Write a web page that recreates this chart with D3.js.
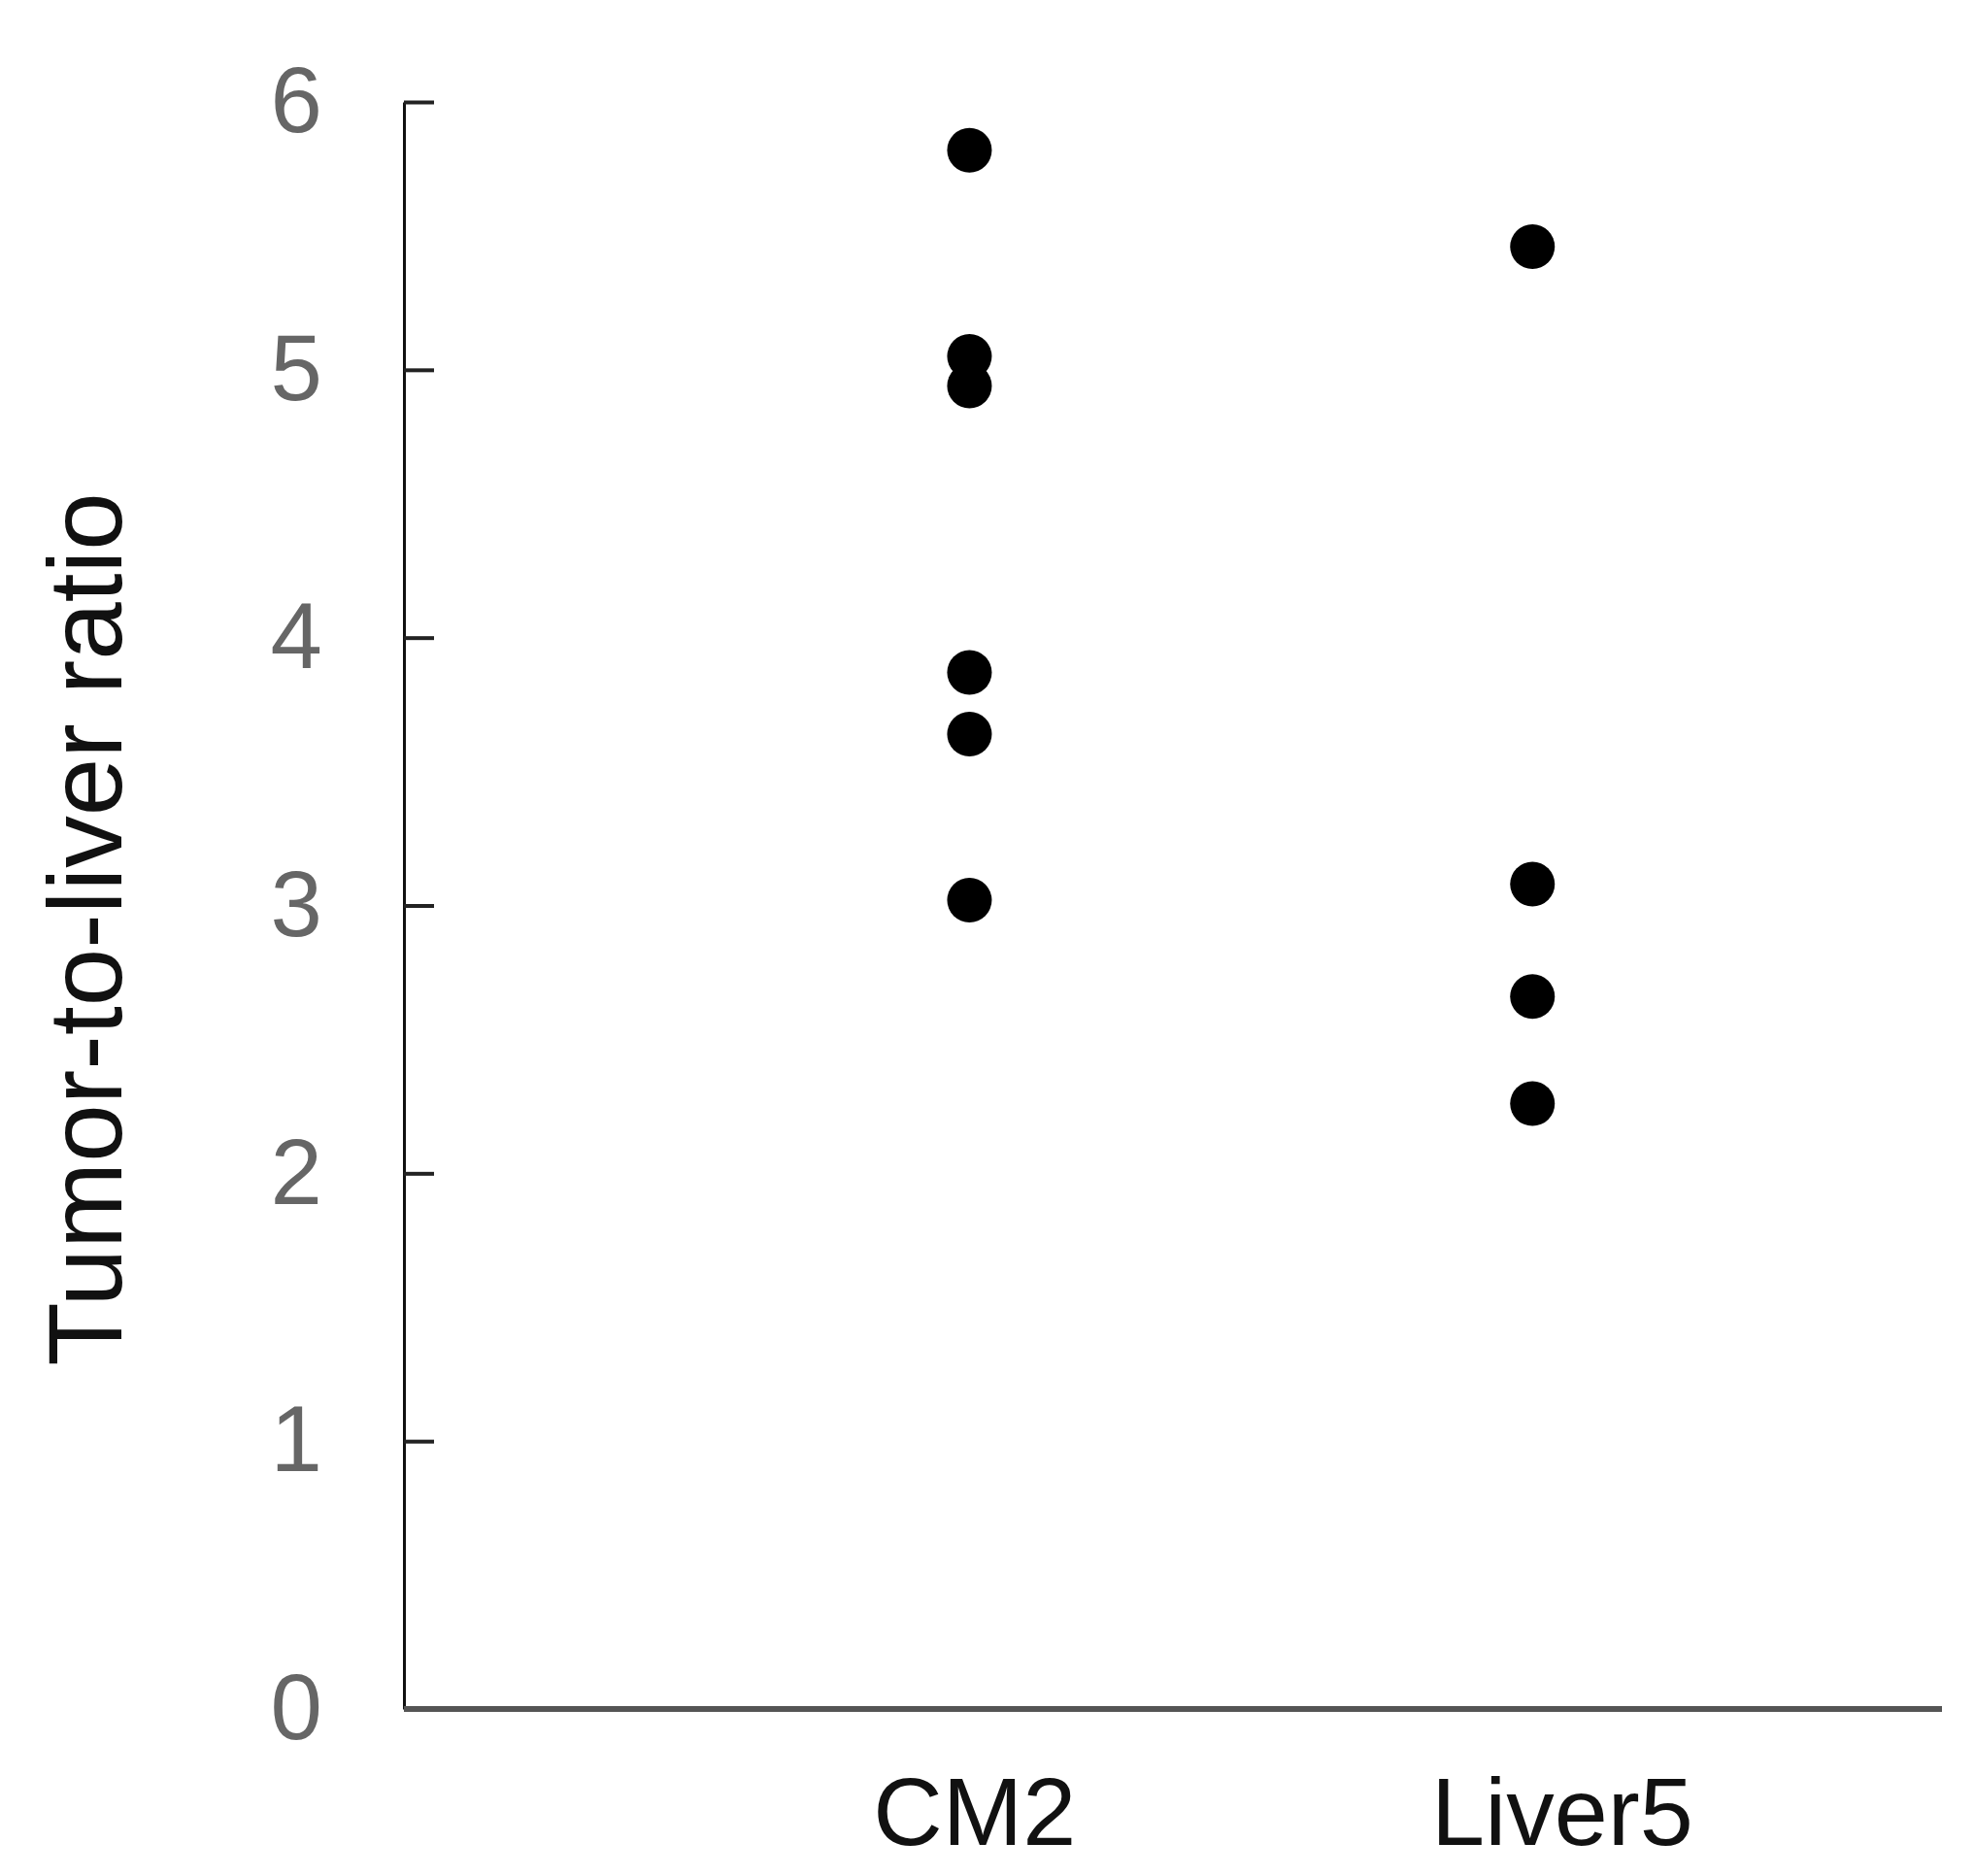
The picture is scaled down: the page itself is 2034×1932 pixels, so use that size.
<!DOCTYPE html>
<html>
<head>
<meta charset="utf-8">
<script src="https://cdn.jsdelivr.net/npm/d3@7"></script>
<style>
  body { margin: 0; background: #fff; }
  svg { display: block; font-family: "Liberation Sans", Arial, sans-serif; }
</style>
</head>
<body>
<div id="chart"></div>
<script>
const groups = ['CM2', 'Liver5'];
const cm2Values = [5.82, 5.05, 4.94, 3.87, 3.64, 3.02];
const liver5Values = [5.46, 3.08, 2.66, 2.26];
const yTicks = [0, 1, 2, 3, 4, 5, 6];

const points = []
    .concat(cm2Values.map(v => ({group: 'CM2', value: v})))
    .concat(liver5Values.map(v => ({group: 'Liver5', value: v})));

const margin = ({top: 105, right: 34, bottom: 172, left: 416});
const fullW = 2034, fullH = 1932;
const width = fullW - margin.left - margin.right;
const height = fullH - margin.top - margin.bottom;

const svg = d3.select('#chart')
    .append('svg')
    .attr('width', fullW)
    .attr('height', fullH)
    .append('g')
    .attr('transform', 'translate(' + margin.left + ',' + margin.top + ')');

// dots and labels are not quite aligned in the original, so two point scales
const xScale = d3.scalePoint()
    .domain(groups)
    .range([0, width])
    .padding(0.866)
    .align(0.58);

const xLabelScale = d3.scalePoint()
    .domain(groups)
    .range([0, width])
    .padding(0.809)
    .align(0.6);

const yScale = d3.scaleLinear()
    .domain([0, 6])
    .range([height, 0]);

// y axis, ticks point inward
const yAxis = svg.append('g')
    .attr('class', 'y-axis')
    .call(d3.axisLeft(yScale)
        .tickValues(yTicks)
        .tickFormat(d3.format('d'))
        .tickSizeInner(-31)
        .tickSizeOuter(0)
        .tickPadding(84));
yAxis.select('.domain')
    .attr('stroke', '#111')
    .attr('stroke-width', 3);
yAxis.selectAll('.tick line')
    .attr('stroke', '#222')
    .attr('stroke-width', 4);
yAxis.selectAll('.tick text')
    .attr('fill', '#666')
    .style('font-size', '96px')
    .style('font-family', '"Liberation Sans", Arial, sans-serif');

// x axis
const xAxis = svg.append('g')
    .attr('class', 'x-axis')
    .attr('transform', 'translate(0,' + height + ')')
    .call(d3.axisBottom(xLabelScale).tickSize(0).tickPadding(70));
xAxis.select('.domain')
    .attr('d', 'M0,0H' + width)
    .attr('stroke', '#555')
    .attr('stroke-width', 6);
xAxis.selectAll('.tick text')
    .attr('fill', '#111')
    .style('font-size', '99px')
    .style('font-family', '"Liberation Sans", Arial, sans-serif');

svg.append('text')
    .attr('class', 'y-axis-title')
    .attr('transform', 'translate(' + (125 - margin.left) + ',' + (957 - margin.top) + ') rotate(-90)')
    .attr('text-anchor', 'middle')
    .attr('fill', '#111')
    .style('font-size', '107px')
    .text('Tumor-to-liver ratio');

svg.selectAll('.dot')
    .data(points)
    .enter()
    .append('circle')
    .attr('class', 'dot')
    .attr('cx', d => xScale(d.group))
    .attr('cy', d => yScale(d.value))
    .attr('r', 23)
    .attr('fill', '#000');
</script>
</body>
</html>
